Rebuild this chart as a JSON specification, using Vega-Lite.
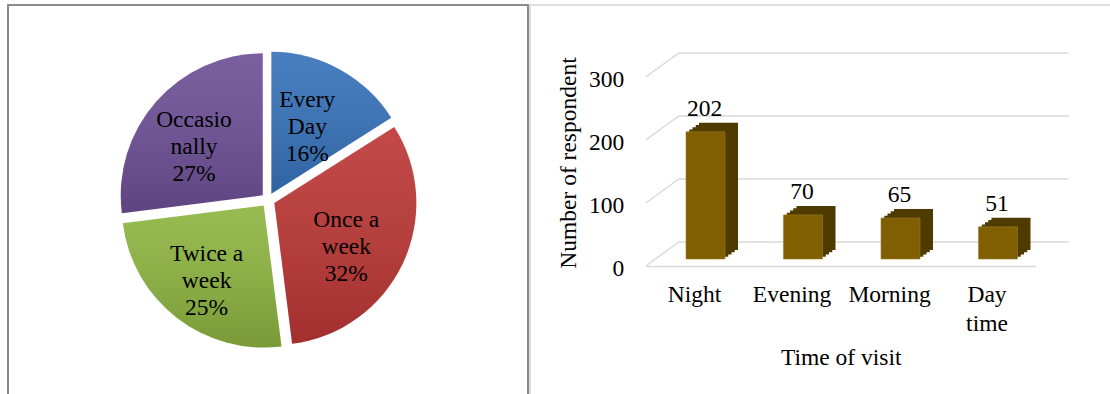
{
  "$schema": "https://vega.github.io/schema/vega-lite/v6.json",
  "background": "white",
  "padding": {"left": 7, "top": 4, "right": 0, "bottom": 0},
  "spacing": 0,
  "config": {
    "font": "Liberation Serif",
    "text": {"font": "Liberation Serif"},
    "axis": {"labelFont": "Liberation Serif", "titleFont": "Liberation Serif"}
  },
  "datasets": {
    "visits": [
      {"freq": "Every Day", "label": "Every\nDay", "share": 16},
      {"freq": "Once a week", "label": "Once a\nweek", "share": 32},
      {"freq": "Twice a week", "label": "Twice a\nweek", "share": 25},
      {"freq": "Occasionally", "label": "Occasio\nnally", "share": 27}
    ],
    "times": [
      {"time": "Night", "n": 202},
      {"time": "Evening", "n": 70},
      {"time": "Morning", "n": 65},
      {"time": "Day time", "n": 51}
    ],
    "gridValues": [{"v": 0}, {"v": 100}, {"v": 200}, {"v": 300}]
  },
  "hconcat": [
    {
      "width": 520,
      "height": 390,
      "view": {"stroke": "#8a8a8a", "strokeWidth": 2},
      "data": {"name": "visits"},
      "transform": [
        {"window": [{"op": "row_number", "as": "i"}]},
        {"stack": "share", "groupby": [], "sort": [{"field": "i"}], "as": ["s0", "s1"]},
        {"calculate": "(datum.s0 + datum.s1) / 2", "as": "mid"},
        {"calculate": "datum.label + '\\n' + datum.share + '%'", "as": "text"}
      ],
      "layer": [
        {
          "mark": {
            "type": "arc",
            "outerRadius": 142,
            "xOffset": {"expr": "7 * sin(PI * datum.mid / 50)"},
            "yOffset": {"expr": "-7 * cos(PI * datum.mid / 50)"}
          },
          "encoding": {
            "theta": {"field": "s0", "type": "quantitative", "scale": {"domain": [0, 100]}},
            "theta2": {"field": "s1"},
            "color": {
              "field": "freq",
              "type": "nominal",
              "scale": {
                "domain": ["Every Day", "Once a week", "Twice a week", "Occasionally"],
                "range": ["#3672ba", "#bc3735", "#8db440", "#6d5096"]
              },
              "legend": null
            }
          }
        },
        {
          "mark": {
            "type": "arc",
            "outerRadius": 142,
            "xOffset": {"expr": "7 * sin(PI * datum.mid / 50)"},
            "yOffset": {"expr": "-7 * cos(PI * datum.mid / 50)"},
            "color": {
              "gradient": "linear",
              "x1": 0, "y1": 0, "x2": 0, "y2": 1,
              "stops": [
                {"offset": 0, "color": "rgba(255,255,255,0.09)"},
                {"offset": 1, "color": "rgba(0,0,0,0.14)"}
              ]
            }
          },
          "encoding": {
            "theta": {"field": "s0", "type": "quantitative", "scale": {"domain": [0, 100]}},
            "theta2": {"field": "s1"}
          }
        },
        {
          "mark": {
            "type": "text",
            "font": "Liberation Serif",
            "radius": 92,
            "fontSize": 23.5,
            "lineHeight": 27,
            "lineBreak": "\n",
            "align": "center",
            "baseline": "middle",
            "dx": -5,
            "dy": -19,
            "color": "black"
          },
          "encoding": {
            "theta": {"field": "mid", "type": "quantitative", "scale": {"domain": [0, 100]}},
            "text": {"field": "text"}
          }
        }
      ]
    },
    {
      "width": 600,
      "height": 400,
      "view": {"stroke": "#d4d4d4", "strokeWidth": 1.5},
      "layer": [
        {
          "data": {"name": "gridValues"},
          "layer": [
            {
              "mark": {"type": "rule", "color": "#d9d9d9", "strokeWidth": 1.5, "xOffset": 33, "x2Offset": 33, "yOffset": -24},
              "encoding": {
                "x": {"datum": 0, "type": "quantitative", "scale": {"domain": [0, 1], "range": [115.75, 505.75]}, "axis": null},
                "x2": {"datum": 1},
                "y": {
                  "field": "v",
                  "type": "quantitative",
                  "scale": {"domain": [0, 300], "range": [261, 72], "nice": false},
                  "axis": {
                    "title": "Number of respondent",
                    "values": [0, 100, 200, 300],
                    "offset": -115.75,
                    "domain": false,
                    "ticks": false,
                    "tickSize": 0,
                    "grid": false,
                    "labelPadding": 22,
                    "labelOffset": 2,
                    "labelFontSize": 23.5,
                    "labelColor": "black",
                    "titleFontSize": 23.5,
                    "titleFontWeight": "normal",
                    "titleColor": "black",
                    "titleAngle": 270,
                    "titleBaseline": "alphabetic",
                    "titleX": -70.75,
                    "titleY": 157.5
                  }
                }
              }
            },
            {
              "mark": {"type": "rule", "color": "#d9d9d9", "strokeWidth": 1.5, "x2Offset": 33, "y2Offset": -24},
              "encoding": {
                "x": {"datum": 0, "type": "quantitative", "scale": {"domain": [0, 1], "range": [115.75, 505.75]}, "axis": null},
                "x2": {"datum": 0},
                "y": {"field": "v", "type": "quantitative"},
                "y2": {"field": "v"}
              }
            }
          ]
        },
        {
          "data": {"name": "times"},
          "encoding": {
            "x": {
              "field": "time",
              "type": "nominal",
              "sort": null,
              "scale": {"range": [115.75, 505.75], "paddingInner": 0.6, "paddingOuter": 0.3},
              "axis": {
                "title": "Time of visit",
                "offset": -139,
                "domain": true,
                "domainColor": "#d9d9d9",
                "domainWidth": 1.5,
                "ticks": false,
                "tickSize": 0,
                "grid": false,
                "labelAngle": 0,
                "labelPadding": 16,
                "labelFontSize": 23.5,
                "labelColor": "black",
                "labelLineHeight": 29,
                "labelExpr": "datum.label == 'Day time' ? ['Day', 'time'] : datum.label",
                "titleFontSize": 23.5,
                "titleFontWeight": "normal",
                "titleColor": "black",
                "titleBaseline": "alphabetic",
                "titleY": 98
              }
            },
            "y": {"field": "n", "type": "quantitative"}
          },
          "layer": [
            {"mark": {"type": "bar", "color": "#4f3b00", "xOffset": 14.25, "yOffset": -9.25, "y2Offset": -9.25}},
            {"mark": {"type": "bar", "color": "#4f3b00", "xOffset": 17.5, "yOffset": -11.5, "y2Offset": -11.5}},
            {"mark": {"type": "bar", "color": "#4f3b00", "xOffset": 20.75, "yOffset": -13.75, "y2Offset": -13.75}},
            {"mark": {"type": "bar", "color": "#4f3b00", "xOffset": 24, "yOffset": -16, "y2Offset": -16}},
            {"mark": {"type": "bar", "color": "#7f5f00", "stroke": "#9a7d2a", "strokeWidth": 0.6, "xOffset": 11, "yOffset": -7, "y2Offset": -7}},
            {
              "mark": {"type": "text", "font": "Liberation Serif", "fontSize": 23.5, "color": "black", "align": "center", "baseline": "middle", "dx": 10, "dy": -30},
              "encoding": {"text": {"field": "n", "type": "quantitative"}}
            }
          ]
        }
      ],
      "resolve": {"scale": {"x": "independent"}, "axis": {"x": "independent"}}
    }
  ]
}
